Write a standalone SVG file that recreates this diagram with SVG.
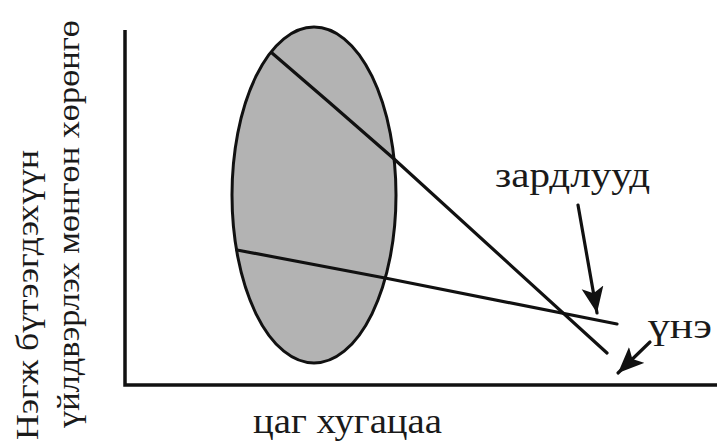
<svg xmlns="http://www.w3.org/2000/svg" width="717" height="448" viewBox="0 0 717 448">
<style>
.ln{stroke:#111;stroke-width:3.2;fill:none;stroke-linecap:round}
.ax{stroke:#111;stroke-width:3.5;fill:none}
</style>
<defs>
<marker id="ah" markerUnits="userSpaceOnUse" markerWidth="28" markerHeight="24" refX="26" refY="11" orient="auto">
<polygon points="0,0 26,11 0,22 6,11" fill="#111"/>
</marker>
</defs>
<rect width="717" height="448" fill="#fff"/>
<g id="axes">
<polyline class="ax" points="125,30 125,385 717,385"/>
</g>
<g id="region">
<ellipse cx="314" cy="195" rx="82" ry="168" fill="#b3b3b3" stroke="#111" stroke-width="3"/>
</g>
<g id="connectors">
<polyline class="ln" points="272,53 330,103 393,158 607,353"/>
<polyline class="ln" points="237,250 385,278 617,324"/>
<line class="ln" x1="578" y1="205" x2="597" y2="313" marker-end="url(#ah)"/>
<line class="ln" x1="650" y1="342" x2="618" y2="373" marker-end="url(#ah)"/>
</g>
<g font-family="Liberation Serif, DejaVu Serif, serif" font-size="36" fill="#1a1a1a">
<g id="label-costs"><text x="495" y="187" textLength="155" lengthAdjust="spacingAndGlyphs">зардлууд</text></g>
<g id="label-price"><text x="648" y="338" textLength="64" lengthAdjust="spacingAndGlyphs">үнэ</text></g>
<g id="label-x"><text x="253" y="433" textLength="189" lengthAdjust="spacingAndGlyphs">цаг хугацаа</text></g>
<g id="label-y" font-size="32">
<text transform="translate(38,440) rotate(-90)" textLength="290" lengthAdjust="spacingAndGlyphs">Нэгж бүтээгдэхүүн</text>
<text transform="translate(79,428) rotate(-90)" textLength="408" lengthAdjust="spacingAndGlyphs">үйлдвэрлэх мөнгөн хөрөнгө</text>
</g>
</g>
</svg>
